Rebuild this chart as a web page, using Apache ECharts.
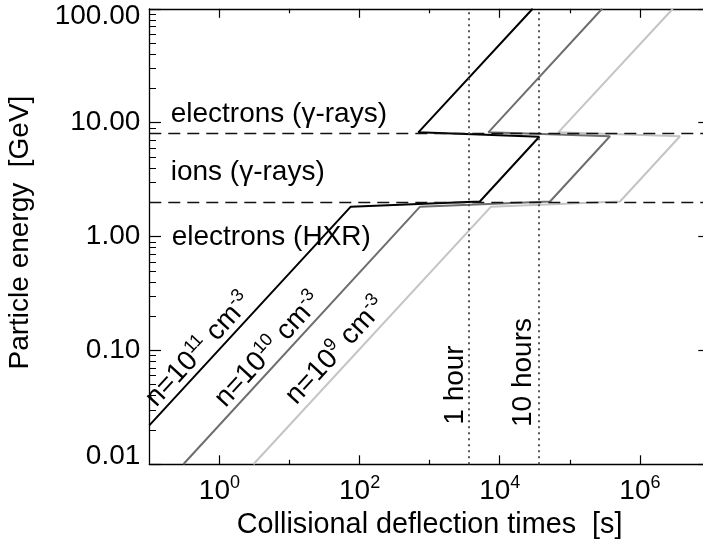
<!DOCTYPE html>
<html>
<head>
<meta charset="utf-8">
<script src="https://cdn.jsdelivr.net/npm/echarts@6/dist/echarts.min.js"></script>
<style>
  html, body { margin: 0; padding: 0; background: #fff; }
  #chart { width: 703px; height: 540px; }
</style>
</head>
<body>
<div id="chart"></div>
<script>
// collisional deflection times vs particle energy, three densities
var tBlack = [0.1, 75, 5200, 36700, 690, 29500];
var eBlack = [0.022, 1.83, 2.03, 7.52, 8.22, 100];
var tGray = [0.306, 730, 52200, 374000, 6880, 289000];
var eGray = [0.01, 1.83, 2.03, 7.6, 8.22, 100];
var tLight = [3.06, 7510, 520000, 3730000, 68500, 2950000];
var eLight = [0.01, 1.83, 2.03, 7.6, 8.22, 100];

var hourTimes = [3600, 36000];      // 1 hour, 10 hours
var bandEnergies = [8, 2];          // GeV thresholds (dashed)
var xMajorTicks = [1, 1e2, 1e4, 1e6];
var xMinorTicks = [10, 1e3, 1e5, 1e7];

function pairs(xs, ys) {
  return xs.map(function (x, i) { return [x, ys[i]]; });
}

var FONT = '"Liberation Sans", Arial, Helvetica, sans-serif';
var rich = {
  a: { fontSize: 28, fontFamily: FONT, color: '#000', lineHeight: 34 },
  s: { fontSize: 18, fontFamily: FONT, color: '#000', lineHeight: 16, verticalAlign: 'top' },
  hi: { fontSize: 28, fontFamily: FONT, color: '#000', lineHeight: 30, padding: [14.6, 0, 0, 0] },
  lo: { fontSize: 28, fontFamily: FONT, color: '#000', lineHeight: 30, padding: [0, 0, 17, 0] },
  n: { fontSize: 28, fontFamily: FONT, color: '#000', lineHeight: 30 }
};

var L = 149.3, T = 8.8, W = 560.7, H = 455.5;

var chart = echarts.init(document.getElementById('chart'), null, { renderer: 'canvas' });

function xAxisDef(grid, pos, ticks, len, labels) {
  return {
    type: 'log', logBase: 10, gridIndex: grid, position: pos,
    min: 0.1, max: 1e7,
    axisLine: { show: labels !== null, lineStyle: { color: '#000', width: 1.3 } },
    axisTick: { show: true, inside: true, length: len, customValues: ticks,
      lineStyle: { color: '#000', width: 1.2 } },
    axisLabel: labels ? {
      show: true, customValues: labels, margin: 10, rich: rich,
      formatter: function (v) {
        return '{a|10}{s|' + Math.round(Math.log10(v)) + '}';
      }
    } : { show: false },
    splitLine: { show: false },
    minorTick: { show: false }
  };
}

function yAxisDef(grid, pos, withLabels) {
  return {
    type: 'log', logBase: 10, gridIndex: grid, position: pos,
    min: 0.01, max: 100,
    show: grid === 0,
    axisLine: { show: true, lineStyle: { color: '#000', width: 1.3 } },
    axisTick: { show: true, inside: true, length: 11.7, lineStyle: { color: '#000', width: 1.2 } },
    minorTick: { show: true, splitNumber: 9, length: 6.7, lineStyle: { color: '#000', width: 1 } },
    axisLabel: withLabels ? {
      show: true, margin: 9, rich: rich,
      formatter: function (v) {
        // end labels sit inside the axis range, like the original
        var key = v >= 99 ? 'hi' : (v <= 0.0101 ? 'lo' : 'n');
        return '{' + key + '|' + v.toFixed(2) + '}';
      }
    } : { show: false },
    splitLine: { show: false }
  };
}

var xAxes = [
  xAxisDef(0, 'bottom', xMajorTicks, 9, xMajorTicks),
  xAxisDef(0, 'top', xMajorTicks, 9, false),
  xAxisDef(1, 'bottom', xMinorTicks, 4.5, null),
  xAxisDef(1, 'top', xMinorTicks, 4.5, null)
];
xAxes[0].name = 'Collisional deflection times  [s]';
xAxes[0].nameLocation = 'middle';
xAxes[0].nameGap = 43;
xAxes[0].nameTextStyle = { color: '#000', fontSize: 28.8, fontFamily: FONT };

var yAxes = [yAxisDef(0, 'left', true), yAxisDef(0, 'right', false), yAxisDef(1, 'left', false)];
yAxes[0].name = 'Particle energy  [GeV]';
yAxes[0].nameLocation = 'middle';
yAxes[0].nameGap = 115;
yAxes[0].nameTextStyle = { color: '#000', fontSize: 28, fontFamily: FONT, padding: [0, 0, 0, 8] };

var markData = hourTimes.map(function (t) {
  return { xAxis: t, lineStyle: { type: [2, 4], color: '#555', width: 2 } };
}).concat(bandEnergies.map(function (e) {
  return { yAxis: e, lineStyle: { type: [12, 7], color: '#111', width: 1.3 } };
}));

function lineSeries(name, data, color) {
  return {
    name: name, type: 'line', xAxisIndex: 0, yAxisIndex: 0,
    data: data, symbol: 'none', smooth: false,
    lineStyle: { color: color, width: 2 },
    itemStyle: { color: color }
  };
}

var blackSeries = lineSeries('n=1e11', pairs(tBlack, eBlack), '#000000');
blackSeries.markLine = {
  silent: true, symbol: ['none', 'none'], label: { show: false },
  animation: false, data: markData
};

function txt(x, y, text, rot) {
  return {
    type: 'text', x: x, y: y, rotation: rot || 0, silent: true,
    style: {
      text: text, rich: rich, fill: '#000',
      font: '28px ' + FONT,
      align: 'center', verticalAlign: 'middle',
      textAlign: 'center', textVerticalAlign: 'middle'
    }
  };
}
function leftTxt(x, y, text) {
  var el = txt(x, y, text, 0);
  el.style.align = 'left';
  el.style.textAlign = 'left';
  return el;
}

var slope = 47.4 * Math.PI / 180;

chart.setOption({
  backgroundColor: '#fff',
  animation: false,
  grid: [
    { left: L, top: T, width: W, height: H, containLabel: false, outerBoundsMode: 'none' },
    { left: L, top: T, width: W, height: H, containLabel: false, outerBoundsMode: 'none' }
  ],
  xAxis: xAxes,
  yAxis: yAxes,
  series: [
    lineSeries('n=1e9', pairs(tLight, eLight), '#c4c4c4'),
    lineSeries('n=1e10', pairs(tGray, eGray), '#6e6e6e'),
    blackSeries
  ],
  graphic: [
    leftTxt(170.7, 114.5, '{a|electrons (γ-rays)}'),
    leftTxt(170.7, 172, '{a|ions (γ-rays)}'),
    leftTxt(171.7, 237, '{a|electrons (HXR)}'),
    txt(199, 350, '{a|n=10}{s|11}{a| cm}{s|-3}', slope),
    txt(268.5, 350, '{a|n=10}{s|10}{a| cm}{s|-3}', slope),
    txt(336, 351, '{a|n=10}{s|9}{a| cm}{s|-3}', slope),
    txt(455, 385, '{a|1 hour}', Math.PI / 2),
    txt(523, 372.5, '{a|10 hours}', Math.PI / 2)
  ]
});

window.addEventListener('resize', function () {
  chart.resize();
});
</script>
</body>
</html>
